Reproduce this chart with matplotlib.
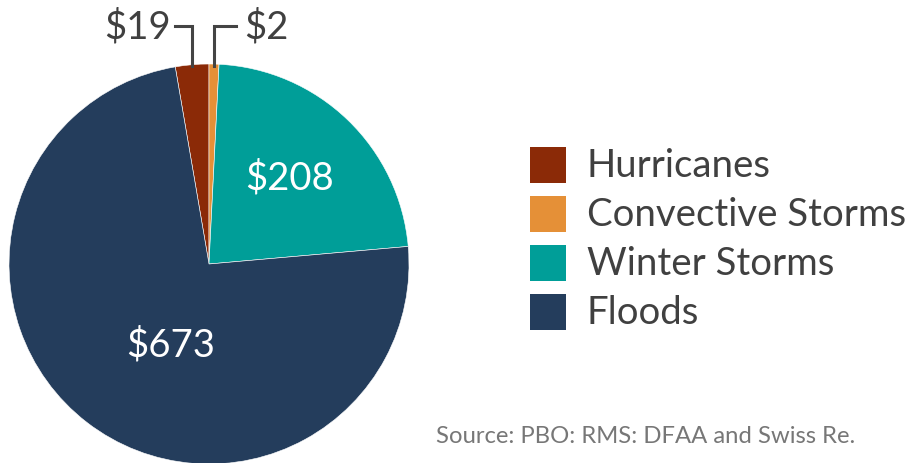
import matplotlib
matplotlib.use('Agg')
import matplotlib.pyplot as plt
from matplotlib.patches import Rectangle

plt.rcParams['font.family'] = ['Lato', 'DejaVu Sans']

categories = ['Hurricanes', 'Convective Storms', 'Winter Storms', 'Floods']
value_labels = ['$19', '$2', '$208', '$673']
# slice shares (%) as drawn in the picture (small slices are drawn larger than their $ share)
shares = [2.7, 0.8, 22.8, 73.7]
colors = ['#8b2a07', '#e59037', '#009e98', '#243d5c']
source = 'Source: PBO: RMS: DFAA and Swiss Re.'

W, H = 909, 464
fig = plt.figure(figsize=(W / 100, H / 100), dpi=100)
ax = fig.add_axes([0, 0, 1, 1])

# pie in pixel coords, hurricanes end at 12 o'clock
start = 90 + shares[0] / sum(shares) * 360
wedges, _ = ax.pie(shares, colors=colors, startangle=start, counterclock=False,
                   center=(209, 199), radius=200,
                   wedgeprops=dict(edgecolor='white', linewidth=0.4))
ax.set_xlim(0, W)
ax.set_ylim(0, H)
ax.set_aspect('auto')
ax.axis('off')

txt = '#404040'
# big labels inside
ax.text(290, 286, value_labels[2], color='white', fontsize=27.5, ha='center', va='center')
ax.text(171, 119, value_labels[3], color='white', fontsize=27.5, ha='center', va='center')

# small slices with leader lines
ax.plot([175, 192, 192], [437, 437, 397], color='#444444', lw=2.2, solid_joinstyle='miter')
ax.plot([214, 214, 236], [397, 437, 437], color='#444444', lw=2.2, solid_joinstyle='miter')
ax.text(171, 437, value_labels[0], color=txt, fontsize=27.5, ha='right', va='center')
ax.text(244, 437, value_labels[1], color=txt, fontsize=27.5, ha='left', va='center')

# legend
for i, (cat, col) in enumerate(zip(categories, colors)):
    y = 464 - 148 - 49 * i
    ax.add_patch(Rectangle((530, y - 36), 36, 36, facecolor=col, edgecolor='none'))
    ax.text(587, y - 18, cat, color=txt, fontsize=27.6, ha='left', va='center')

ax.text(436, 27, source, color='#777777', fontsize=17.2, ha='left', va='center')

fig.savefig('out.png', dpi=100)
